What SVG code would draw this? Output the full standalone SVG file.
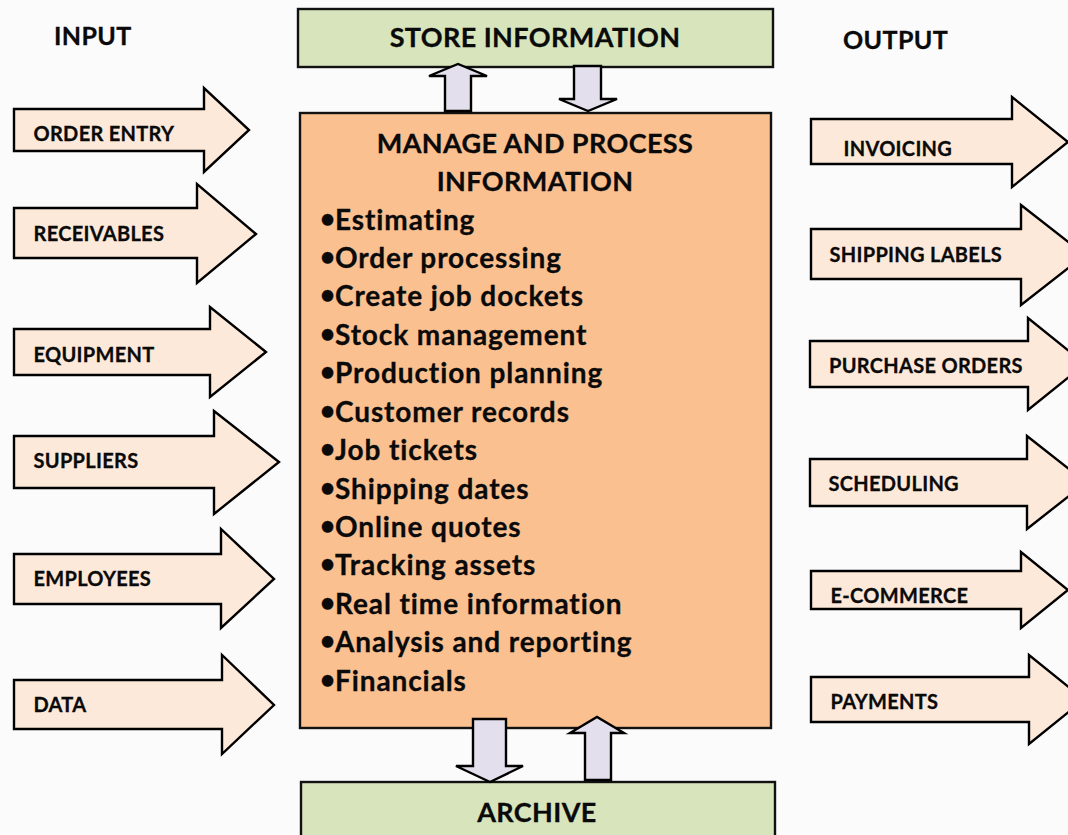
<svg xmlns="http://www.w3.org/2000/svg" width="1068" height="835" viewBox="0 0 1068 835">
<style>
text{font-family:"Lato","Liberation Sans",sans-serif;font-weight:700;fill:#0a0a0a;stroke:#0a0a0a;stroke-width:.3}
.io{fill:#fde9d9;stroke:#000;stroke-width:2.4}
.v{fill:#e4dfec;stroke:#000;stroke-width:2.4}
.g{fill:#d7e4bc;stroke:#111;stroke-width:2.4}
.a{font-size:20px;letter-spacing:.3px}
.h{font-size:25px;letter-spacing:.4px}
.m{font-size:27px;letter-spacing:.4px}
.l{font-size:28px;letter-spacing:.9px}
.b{font-size:26px;letter-spacing:0}
</style>
<rect width="1068" height="835" fill="#fbfbfc"/>
<text class="h" x="54" y="45">INPUT</text>
<text class="h" x="843" y="49">OUTPUT</text>
<g id="store"><rect class="g" x="298" y="9" width="475" height="58"/><text class="m" x="535" y="47" text-anchor="middle">STORE INFORMATION</text></g>
<g id="process"><rect x="300" y="113" width="471" height="615" fill="#fac090" stroke="#111" stroke-width="2.4"/>
<text class="m" x="535" y="153" text-anchor="middle">MANAGE AND PROCESS</text>
<text class="m" x="535" y="191" text-anchor="middle">INFORMATION</text>
<text class="l" x="320" y="230"><tspan class="b" dy="-2">•</tspan><tspan x="335" dy="2">Estimating</tspan></text>
<text class="l" x="320" y="268"><tspan class="b" dy="-2">•</tspan><tspan x="335" dy="2">Order processing</tspan></text>
<text class="l" x="320" y="306"><tspan class="b" dy="-2">•</tspan><tspan x="335" dy="2">Create job dockets</tspan></text>
<text class="l" x="320" y="345"><tspan class="b" dy="-2">•</tspan><tspan x="335" dy="2">Stock management</tspan></text>
<text class="l" x="320" y="383"><tspan class="b" dy="-2">•</tspan><tspan x="335" dy="2">Production planning</tspan></text>
<text class="l" x="320" y="422"><tspan class="b" dy="-2">•</tspan><tspan x="335" dy="2">Customer records</tspan></text>
<text class="l" x="320" y="460"><tspan class="b" dy="-2">•</tspan><tspan x="335" dy="2">Job tickets</tspan></text>
<text class="l" x="320" y="499"><tspan class="b" dy="-2">•</tspan><tspan x="335" dy="2">Shipping dates</tspan></text>
<text class="l" x="320" y="537"><tspan class="b" dy="-2">•</tspan><tspan x="335" dy="2">Online quotes</tspan></text>
<text class="l" x="320" y="575"><tspan class="b" dy="-2">•</tspan><tspan x="335" dy="2">Tracking assets</tspan></text>
<text class="l" x="320" y="614"><tspan class="b" dy="-2">•</tspan><tspan x="335" dy="2">Real time information</tspan></text>
<text class="l" x="320" y="652"><tspan class="b" dy="-2">•</tspan><tspan x="335" dy="2">Analysis and reporting</tspan></text>
<text class="l" x="320" y="691"><tspan class="b" dy="-2">•</tspan><tspan x="335" dy="2">Financials</tspan></text>
</g>
<g id="archive"><rect class="g" x="301" y="782" width="474" height="60"/><text class="m" x="537" y="822" text-anchor="middle">ARCHIVE</text></g>
<g id="connectors">
<path class="v" d="M445 111V76H429L458 64L487 76H471V111Z"/>
<path class="v" d="M574 66H601V99H617L588 111L559 99H574Z"/>
<path class="v" d="M473 719H506V766H523L490 782L456 766H473Z"/>
<path class="v" d="M585 780V733H570L597 717L624 733H611V780Z"/>
</g>
<g id="in-order"><path class="io" d="M14 109H204V88L249 130L204 172V151H14Z"/><text class="a" x="33.500" y="141">ORDER ENTRY</text></g>
<g id="in-receivables"><path class="io" d="M14 208H197V184L256 234L197 283V258H14Z"/><text class="a" x="33.500" y="241">RECEIVABLES</text></g>
<g id="in-equipment"><path class="io" d="M14 329H210V307L266 352L210 397V375H14Z"/><text class="a" x="33.500" y="362">EQUIPMENT</text></g>
<g id="in-suppliers"><path class="io" d="M14 436H214V411L279 462L214 514V488H14Z"/><text class="a" x="33.500" y="468">SUPPLIERS</text></g>
<g id="in-employees"><path class="io" d="M14 554H221V529L274 579L221 628V604H14Z"/><text class="a" x="33.500" y="586">EMPLOYEES</text></g>
<g id="in-data"><path class="io" d="M14 680H222V655L274 705L222 754V729H14Z"/><text class="a" x="33.500" y="712">DATA</text></g>
<g id="out-invoicing"><path class="io" d="M811 119H1012V97L1068 142L1012 187V164H811Z"/><text class="a" x="843.500" y="156">INVOICING</text></g>
<g id="out-shipping"><path class="io" d="M811 229H1021V205L1085 255L1021 305V279H811Z"/><text class="a" x="829.500" y="262">SHIPPING LABELS</text></g>
<g id="out-purchase"><path class="io" d="M810 341H1028V318L1085 364L1028 410V387H810Z"/><text class="a" x="829" y="373">PURCHASE ORDERS</text></g>
<g id="out-scheduling"><path class="io" d="M810 459H1027V436L1086 482.500L1027 529V506H810Z"/><text class="a" x="828.500" y="491">SCHEDULING</text></g>
<g id="out-ecommerce"><path class="io" d="M811 571H1021V552L1068 590L1021 628V609H811Z"/><text class="a" x="830.500" y="603">E-COMMERCE</text></g>
<g id="out-payments"><path class="io" d="M811 677H1029V655L1084 699.500L1029 744V722H811Z"/><text class="a" x="830.500" y="709">PAYMENTS</text></g>
</svg>
